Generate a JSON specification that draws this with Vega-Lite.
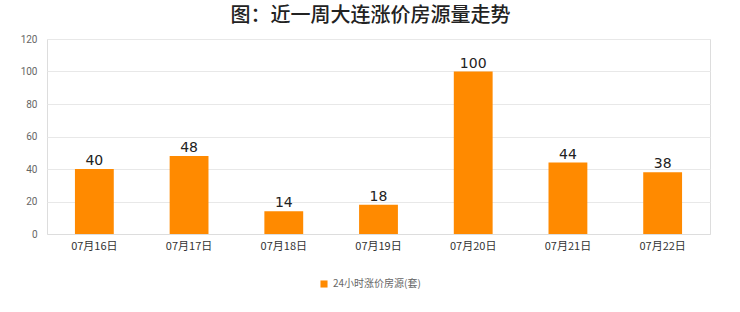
{
  "$schema": "https://vega.github.io/schema/vega-lite/v6.json",
  "autosize": {"type": "none"},
  "width": 663,
  "height": 195,
  "padding": {"left": 47, "top": 39, "right": 30, "bottom": 78},
  "background": "white",
  "title": {
    "text": "图：近一周大连涨价房源量走势",
    "font": "Noto Sans CJK SC",
    "fontSize": 20,
    "fontWeight": 500,
    "color": "#222222",
    "anchor": "middle",
    "dx": -8,
    "offset": 8
  },
  "data": {
    "values": [
      {"date": "07月16日", "count": 40, "series": "24小时涨价房源(套)"},
      {"date": "07月17日", "count": 48, "series": "24小时涨价房源(套)"},
      {"date": "07月18日", "count": 14, "series": "24小时涨价房源(套)"},
      {"date": "07月19日", "count": 18, "series": "24小时涨价房源(套)"},
      {"date": "07月20日", "count": 100, "series": "24小时涨价房源(套)"},
      {"date": "07月21日", "count": 44, "series": "24小时涨价房源(套)"},
      {"date": "07月22日", "count": 38, "series": "24小时涨价房源(套)"}
    ]
  },
  "config": {
    "view": {"stroke": "#dddddd"},
    "font": "Noto Sans CJK SC"
  },
  "encoding": {
    "x": {
      "field": "date", "type": "nominal", "sort": null, "title": null,
      "scale": {"paddingInner": 0.59, "paddingOuter": 0.295},
      "axis": {"labelAngle": 0, "ticks": false, "domainColor": "#dddddd", "labelColor": "#333333", "labelFontSize": 11, "labelPadding": 6, "labelFont": "Noto Sans CJK SC"}
    },
    "y": {
      "field": "count", "type": "quantitative", "title": null,
      "scale": {"domain": [0, 120]},
      "axis": {"values": [0, 20, 40, 60, 80, 100, 120], "ticks": false, "domain": false, "gridColor": "#e8e8e8", "labelColor": "#666666", "labelFontSize": 10, "labelPadding": 10, "labelFont": "Roboto"}
    }
  },
  "layer": [
    {
      "mark": {"type": "bar", "color": "#FF8A00"},
      "encoding": {
        "color": {
          "field": "series", "type": "nominal",
          "scale": {"range": ["#FF8A00"]},
          "legend": {"title": null, "orient": "none", "legendX": 272, "legendY": 240, "symbolType": "square", "symbolSize": 50, "labelFontSize": 10, "labelColor": "#666666", "labelFont": "Noto Sans CJK SC"}
        }
      }
    },
    {
      "mark": {"type": "text", "dy": -8, "fontSize": 14, "color": "#222222", "font": "DejaVu Sans"},
      "encoding": {"text": {"field": "count", "type": "quantitative"}}
    }
  ]
}
